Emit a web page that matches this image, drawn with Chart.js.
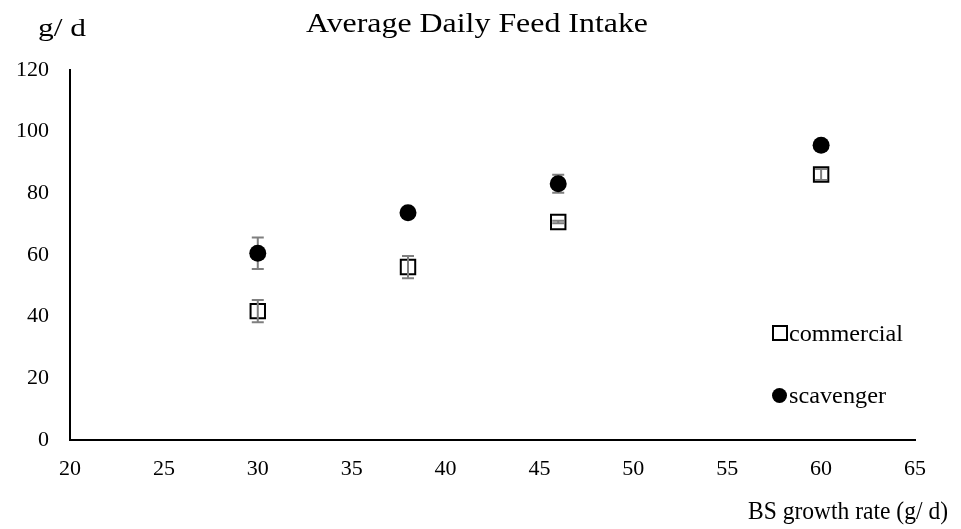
<!DOCTYPE html>
<html>
<head>
<meta charset="utf-8">
<script src="https://cdn.jsdelivr.net/npm/chart.js@4/dist/chart.umd.min.js"></script>
<style>
  html, body { margin: 0; padding: 0; background: #ffffff; }
  #wrap { width: 961px; height: 529px; }
</style>
</head>
<body>
<div id="wrap"><canvas id="c" width="961" height="529"></canvas></div>
<script>
// ---- data ----
const growthRate = [30, 38, 46, 60];
const commercial = [41.8, 56.1, 70.7, 86.1];
const commercialErr = [3.6, 3.6, 0.4, 1.8];
const scavenger = [60.6, 73.7, 83.1, 95.6];
const scavengerErr = [5.1, 0.8, 2.9, 1.5];
const seriesNames = ['commercial', 'scavenger'];
const chartTitle = 'Average Daily Feed Intake';
const yAxisTitle = 'g/ d';
const xAxisTitle = 'BS growth rate (g/ d)';

const SERIF = '"Liberation Serif", "Times New Roman", serif';

function pts(xs, ys) { return xs.map((x, i) => ({ x: x, y: ys[i] })); }

// draw text starting at left x, squeezed/stretched horizontally to a given width
function fitText(ctx, text, left, baseline, width) {
  const w = ctx.measureText(text).width;
  ctx.save();
  ctx.translate(left, baseline);
  ctx.scale(width / w, 1);
  ctx.textAlign = 'left';
  ctx.fillText(text, 0, 0);
  ctx.restore();
}

const errorBarPlugin = {
  id: 'errorBars',
  afterDatasetDraw(chart, args) {
    if (args.index !== 1) return; // draw after commercial, before scavenger
    const ctx = chart.ctx;
    const xs = chart.scales.x, ys = chart.scales.y;
    ctx.save();
    ctx.strokeStyle = '#7f7f7f';
    ctx.lineWidth = 2;
    const sets = [[scavenger, scavengerErr], [commercial, commercialErr]];
    sets.forEach(([vals, errs]) => {
      vals.forEach((v, i) => {
        const px = xs.getPixelForValue(growthRate[i]);
        const top = ys.getPixelForValue(v + errs[i]);
        const bot = ys.getPixelForValue(v - errs[i]);
        ctx.beginPath();
        ctx.moveTo(px, top); ctx.lineTo(px, bot);
        ctx.moveTo(px - 6, top); ctx.lineTo(px + 6, top);
        ctx.moveTo(px - 6, bot); ctx.lineTo(px + 6, bot);
        ctx.stroke();
      });
    });
    ctx.restore();
  }
};

const textPlugin = {
  id: 'texts',
  afterDraw(chart) {
    const ctx = chart.ctx;
    ctx.save();
    ctx.fillStyle = '#000';
    ctx.textBaseline = 'alphabetic';
    // title
    ctx.font = '28px ' + SERIF;
    fitText(ctx, chartTitle, 306, 32, 342);
    // y-axis title
    ctx.font = '25px ' + SERIF;
    fitText(ctx, yAxisTitle, 38, 36, 48);
    // x-axis title
    ctx.font = '26px ' + SERIF;
    fitText(ctx, xAxisTitle, 748, 519, 200);
    // legend
    ctx.font = '24px ' + SERIF;
    ctx.strokeStyle = '#000';
    ctx.lineWidth = 2;
    ctx.strokeRect(773, 326, 14, 14);
    fitText(ctx, seriesNames[0], 789, 341, 114);
    ctx.beginPath();
    ctx.arc(779.5, 395.5, 7.5, 0, Math.PI * 2);
    ctx.fill();
    fitText(ctx, seriesNames[1], 789, 403, 97);
    ctx.restore();
  }
};

new Chart(document.getElementById('c'), {
  type: 'scatter',
  data: {
    datasets: [
      {
        label: seriesNames[1],
        data: pts(growthRate, scavenger),
        pointStyle: 'circle',
        pointRadius: 8.5,
        pointHoverRadius: 8.5,
        backgroundColor: '#000',
        borderColor: '#000',
        borderWidth: 0
      },
      {
        label: seriesNames[0],
        data: pts(growthRate, commercial),
        pointStyle: 'rect',
        pointRadius: 10.2,
        pointHoverRadius: 10.2,
        backgroundColor: '#ffffff',
        borderColor: '#000',
        borderWidth: 2
      }
    ]
  },
  options: {
    responsive: false,
    animation: false,
    events: [],
    layout: { padding: { top: 70, right: 46, left: 0, bottom: 0 } },
    plugins: {
      legend: { display: false },
      title: { display: false },
      tooltip: { enabled: false }
    },
    scales: {
      x: {
        type: 'linear',
        min: 20, max: 65,
        grid: { display: false, drawTicks: false },
        border: { display: true, color: '#000', width: 2 },
        ticks: {
          stepSize: 5,
          color: '#000',
          padding: 16,
          font: { family: SERIF, size: 22 }
        },
        afterFit(scale) { scale.height = 89; }
      },
      y: {
        type: 'linear',
        min: 0, max: 120,
        grid: { display: false, drawTicks: false },
        border: { display: true, color: '#000', width: 2 },
        ticks: {
          stepSize: 20,
          color: '#000',
          padding: 21,
          font: { family: SERIF, size: 22 }
        },
        afterFit(scale) { scale.width = 70; }
      }
    }
  },
  plugins: [errorBarPlugin, textPlugin]
});
</script>
</body>
</html>
